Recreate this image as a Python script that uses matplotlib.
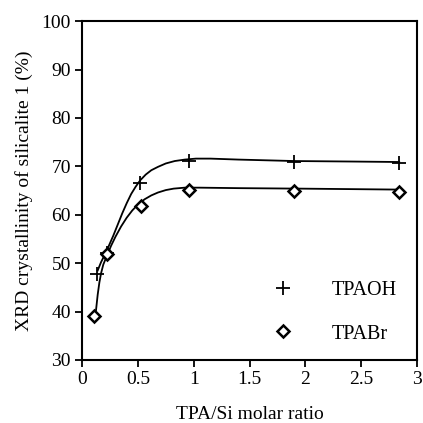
import matplotlib
matplotlib.use("Agg")
import matplotlib.pyplot as plt

plt.rcParams['font.family'] = ['Liberation Serif', 'DejaVu Serif']

# measured points
tpaoh_x = [0.13, 0.22, 0.52, 0.96, 1.90, 2.84]
tpaoh_y = [47.7, 52.0, 66.6, 71.1, 70.9, 70.7]
tpabr_x = [0.11, 0.22, 0.53, 0.955, 1.90, 2.84]
tpabr_y = [39.1, 51.9, 61.8, 65.1, 64.9, 64.8]

# fitted curves
fit_oh_x = [0.14, 0.17, 0.20, 0.24, 0.28, 0.32, 0.36, 0.40, 0.44, 0.48, 0.52, 0.57, 0.62,
            0.68, 0.75, 0.83, 0.92, 1.02, 1.15, 1.4, 1.9, 2.4, 2.84]
fit_oh_y = [48.5, 50.2, 51.6, 53.6, 55.7, 58.0, 60.3, 62.4, 64.3, 65.8, 67.1, 68.3, 69.2,
            69.9, 70.6, 71.1, 71.4, 71.6, 71.6, 71.4, 71.1, 71.0, 70.9]
fit_br_x = [0.125, 0.14, 0.155, 0.17, 0.19, 0.22, 0.26, 0.30, 0.35, 0.40, 0.45, 0.50, 0.56,
            0.62, 0.68, 0.75, 0.82, 0.92, 1.05, 1.4, 1.95, 2.4, 2.84]
fit_br_y = [40.3, 43.5, 46.0, 47.9, 49.7, 51.4, 53.6, 55.5, 57.6, 59.4, 60.9, 62.1, 63.2,
            64.0, 64.6, 65.1, 65.4, 65.6, 65.6, 65.5, 65.4, 65.3, 65.2]

x_ticks = [0, 0.5, 1, 1.5, 2, 2.5, 3]
x_tick_labels = ['0', '0.5', '1', '1.5', '2', '2.5', '3']
y_ticks = [30, 40, 50, 60, 70, 80, 90, 100]

fig = plt.figure(figsize=(4.23, 4.23), dpi=100)
ax = fig.add_axes([0.194, 0.149, 0.792, 0.801])

ax.plot(fit_oh_x, fit_oh_y, color='black', lw=1.3)
ax.plot(fit_br_x, fit_br_y, color='black', lw=1.3)
ax.plot(tpaoh_x, tpaoh_y, ls='none', marker='+', ms=10, mew=1.3, color='black', label='TPAOH')
ax.plot(tpabr_x, tpabr_y, ls='none', marker='D', ms=6, mew=1.8, mfc='white', mec='black',
        label='TPABr')

ax.set_xlim(0, 3)
ax.set_ylim(30, 100)
ax.set_xticks(x_ticks)
ax.set_xticklabels(x_tick_labels)
ax.set_yticks(y_ticks)
ax.tick_params(direction='out', length=5, width=1.3, labelsize=14, pad=3)
for s in ax.spines.values():
    s.set_linewidth(1.5)

ax.set_xlabel('TPA/Si molar ratio', fontsize=14, labelpad=13)
ax.set_ylabel('XRD crystallinity of silicalite 1 (%)', fontsize=14, labelpad=6)

ax.legend(loc='lower right', bbox_to_anchor=(0.995, -0.005), frameon=False, fontsize=14.5,
          handlelength=1.5, handletextpad=1.7, labelspacing=1.2)

fig.savefig('out.png', dpi=100)
